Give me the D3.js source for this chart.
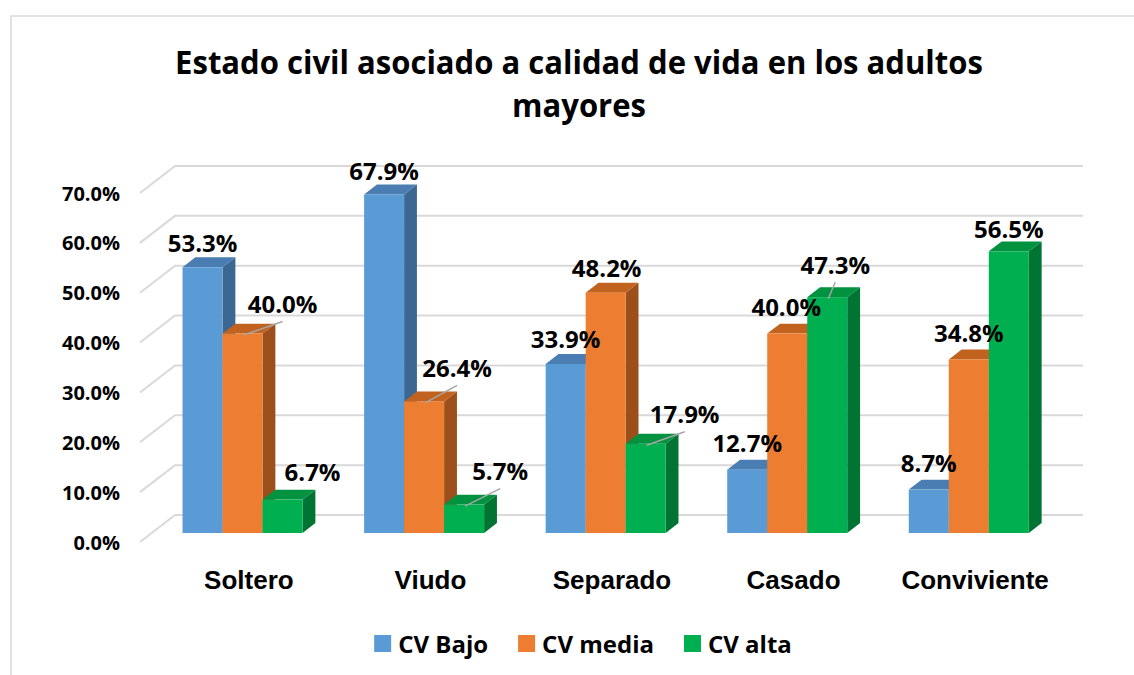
<!DOCTYPE html>
<html>
<head>
<meta charset="utf-8">
<script src="https://cdn.jsdelivr.net/npm/d3@7"></script>
<style>
  body { margin: 0; background: #fff; }
  text { font-family: "Open Sans", sans-serif; font-weight: bold; fill: #000; }
</style>
</head>
<body>
<script>
// data
const categories = ["Soltero", "Viudo", "Separado", "Casado", "Conviviente"];
const series = ["CV Bajo", "CV media", "CV alta"];
const cvBajo = [53.3, 67.9, 33.9, 12.7, 8.7];
const cvMedia = [40.0, 26.4, 48.2, 40.0, 34.8];
const cvAlta = [6.7, 5.7, 17.9, 47.3, 56.5];
const yTicks = [0, 10, 20, 30, 40, 50, 60, 70];

// label placement tweaks (Excel moved some labels by hand, with leader lines)
const labelNudge = [
  [[0, -25], [0, -24], [0, -25], [0, -27], [0, -27]],
  [[40, -30], [33, -34], [1, -25], [-1, -27], [0, -27]],
  [[30, -28], [36, -34], [39, -30], [8, -33], [0, -23]]
];
const leader = [
  [false, false, false, false, false],
  [true, true, false, false, false],
  [false, true, true, true, false]
];

const W = 1134, H = 675;
const colors = {
  "CV Bajo":  {front: "#5B9BD5", top: "#4A7DB2", side: "#3D6793"},
  "CV media": {front: "#ED7D31", top: "#C2621F", side: "#9C4E1B"},
  "CV alta":  {front: "#00B050", top: "#00923F", side: "#007433"}
};
const valuesBySeries = [cvBajo, cvMedia, cvAlta];

const svg = d3.select("body").append("svg")
  .attr("width", W).attr("height", H);

svg.append("rect").attr("width", W).attr("height", H).attr("fill", "#fff");

// chart frame (only top/left show in the crop)
svg.append("path")
  .attr("d", "M11,675 L11,16 L1134,16")
  .attr("fill", "none").attr("stroke", "#D9D9D9").attr("stroke-width", 1.5);

// title
const title = svg.append("g");
const t1 = title.append("text").attr("x", 0).attr("y", 74)
  .attr("text-anchor", "middle").attr("font-size", 32)
  .text("Estado civil asociado a calidad de vida en los adultos");
title.append("text").attr("x", 0).attr("y", 117)
  .attr("text-anchor", "middle").attr("font-size", 32)
  .text("mayores");
const tw = t1.node().getComputedTextLength();
title.attr("transform", `translate(579,0) scale(${808 / tw},1)`);

// 3D projection: floor depth vector front -> back
const depth = {dx: 35, dy: -27};
const y = d3.scaleLinear().domain([0, 70]).range([515, 166]); // back plane
const x0 = d3.scaleBand().domain(categories).range([175, 1083])
  .paddingInner(0.339).paddingOuter(0.17);
const x1 = d3.scaleBand().domain(series).range([0, x0.bandwidth()]);

// gridlines
svg.append("g").selectAll("path")
  .data(yTicks)
  .join("path")
  .attr("d", t => `M${175 - depth.dx},${y(t) - depth.dy} L175,${y(t)} L1083,${y(t)}`)
  .attr("fill", "none").attr("stroke", "#D9D9D9").attr("stroke-width", 2);

// y labels
svg.append("g").selectAll("text")
  .data(yTicks)
  .join("text")
  .attr("x", 120)
  .attr("y", t => y(t) - depth.dy)
  .attr("text-anchor", "end")
  .attr("dominant-baseline", "central")
  .attr("font-size", 20)
  .text(t => d3.format(".1f")(t) + "%");

// bars
const fFront = 2 / 3, fBack = 0.3;
const offF = {x: -depth.dx * fFront, y: -depth.dy * fFront};
const offB = {x: -depth.dx * fBack, y: -depth.dy * fBack};
const bdx = offB.x - offF.x, bdy = offB.y - offF.y;

const bars = [];
categories.forEach((c, ci) => {
  series.forEach((s, si) => {
    const v = valuesBySeries[si][ci];
    const xl = x0(c) + x1(s) + offF.x;
    const xr = xl + x1.bandwidth();
    const yt = y(v) + offF.y;
    const yb = y(0) + offF.y;
    bars.push({c, s, si, ci, v, xl, xr, yt, yb});
  });
});

const gBars = svg.append("g");
bars.forEach(b => {
  const col = colors[b.s];
  gBars.append("path")
    .attr("d", `M${b.xr},${b.yt} L${b.xr + bdx},${b.yt + bdy} L${b.xr + bdx},${b.yb + bdy} L${b.xr},${b.yb} Z`)
    .attr("fill", col.side);
  gBars.append("path")
    .attr("d", `M${b.xl},${b.yt} L${b.xl + bdx},${b.yt + bdy} L${b.xr + bdx},${b.yt + bdy} L${b.xr},${b.yt} Z`)
    .attr("fill", col.top);
  gBars.append("rect")
    .attr("x", b.xl).attr("y", b.yt)
    .attr("width", b.xr - b.xl).attr("height", b.yb - b.yt)
    .attr("fill", col.front);
});

// leader lines + data labels
const gLab = svg.append("g");
bars.forEach(b => {
  const n = labelNudge[b.si][b.ci];
  const cx = (b.xl + b.xr) / 2;
  const lx = cx + n[0], ly = b.yt + n[1];
  if (leader[b.si][b.ci]) {
    gLab.append("line")
      .attr("x1", cx + 1).attr("y1", b.yt + 1.5)
      .attr("x2", lx).attr("y2", ly + 18)
      .attr("stroke", "#A6A6A6").attr("stroke-width", 1.5);
  }
  gLab.append("text")
    .attr("x", lx).attr("y", ly)
    .attr("text-anchor", "middle")
    .attr("dominant-baseline", "central")
    .attr("font-size", 24)
    .text(d3.format(".1f")(b.v) + "%");
});

// category labels
svg.append("g").selectAll("text")
  .data(categories)
  .join("text")
  .attr("x", c => x0(c) + x0.bandwidth() / 2 - 17)
  .attr("y", 580)
  .attr("text-anchor", "middle")
  .attr("dominant-baseline", "central")
  .style("font-family", "'Liberation Sans', Arial, sans-serif")
  .attr("font-size", 26)
  .text(c => c);

// legend
const legend = svg.append("g");
let lx = 0;
series.forEach((s, i) => {
  const g = legend.append("g").attr("transform", `translate(${lx},0)`);
  g.append("rect").attr("x", 0).attr("y", 635).attr("width", 17).attr("height", 17)
    .attr("fill", colors[s].front);
  const t = g.append("text").attr("x", 24).attr("y", 643.5)
    .attr("dominant-baseline", "central").attr("font-size", 24).text(s);
  lx += 24 + t.node().getComputedTextLength() + 30;
});
legend.attr("transform", `translate(${583 - (lx - 30) / 2},0)`);
</script>
</body>
</html>
